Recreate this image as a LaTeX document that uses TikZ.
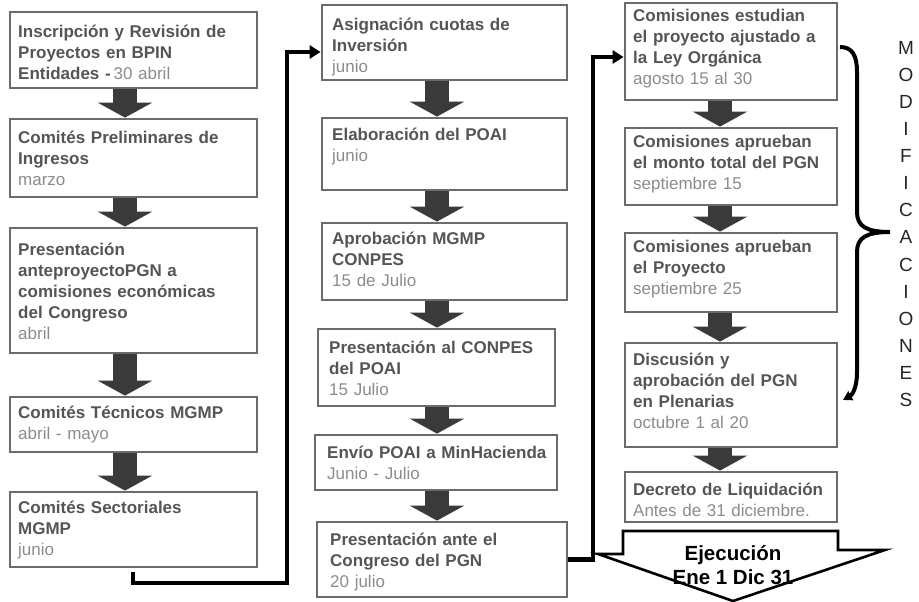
\documentclass[tikz,border=0pt]{standalone}
\usepackage{fontspec}
\setmainfont{Liberation Sans}
\usetikzlibrary{arrows.meta,fit,calc}
\definecolor{boxline}{HTML}{6B6B6B}
\definecolor{ttlc}{HTML}{555555}
\definecolor{dtec}{HTML}{8C8C8C}
\definecolor{fatc}{HTML}{3A3A3A}
\newcommand{\dt}[1]{{\mdseries\color{dtec}#1}}
\begin{document}
\begin{tikzpicture}[x=1pt,y=-1pt,
  box/.style={draw=boxline,line width=2.8pt,inner sep=0pt},
  txt/.style={anchor=base west,inner sep=0pt,text width=250pt,align=left,
    font=\fontsize{17}{21}\selectfont\bfseries,text=ttlc},
  fatarr/.style={line width=24pt,draw=fatc,-{Triangle[length=15pt,width=54pt]}},
  conn/.style={line width=4.5pt,draw=black,-{Triangle[length=11pt,width=13pt]}},
  bracel/.style={line width=4pt,draw=black,-{Triangle[length=9pt,width=10pt]}}]
\useasboundingbox (0,0) rectangle (919,602);
\fill[white] (0,0) rectangle (919,602);
% column 1
\node[box,fit={(10,12) (257,88)}] (b11) {};
\node[box,fit={(10,119) (257,197)}] (b12) {};
\node[box,fit={(10,228) (257,353)}] (b13) {};
\node[box,fit={(10,397) (257,452)}] (b14) {};
\node[box,fit={(10,492) (257,567)}] (b15) {};
\node[txt] (t11) at (18,37.5) {Inscripción y Revisión de\\Proyectos en BPIN\\Entidades -\,\dt{30 abril}};
\node[txt] (t12) at (18,143.5) {Comités Preliminares de\\Ingresos\\\dt{marzo}};
\node[txt] (t13) at (18,255.5) {Presentación\\anteproyectoPGN a\\comisiones económicas\\del Congreso\\\dt{abril}};
\node[txt] (t14) at (18,418.5) {Comités Técnicos MGMP\\\dt{abril - mayo}};
\node[txt] (t15) at (18,513.5) {Comités Sectoriales\\MGMP\\\dt{junio}};
% column 2
\node[box,fit={(322,5) (567,80)}] (b21) {};
\node[box,fit={(322,118) (567,190)}] (b22) {};
\node[box,fit={(322,223) (567,300)}] (b23) {};
\node[box,fit={(318,329) (555,406)}] (b24) {};
\node[box,fit={(315,435) (557,490)}] (b25) {};
\node[box,fit={(317,522) (567,597)}] (b26) {};
\node[txt] (t21) at (332,30.5) {Asignación cuotas de\\Inversión\\\dt{junio}};
\node[txt] (t22) at (332,140.5) {Elaboración del POAI\\\dt{junio}};
\node[txt] (t23) at (332,244.5) {Aprobación MGMP\\CONPES\\\dt{15 de Julio}};
\node[txt] (t24) at (329,353.5) {Presentación al CONPES\\del POAI\\\dt{15 Julio}};
\node[txt] (t25) at (327,458.5) {Envío POAI a MinHacienda\\\dt{Junio - Julio}};
\node[txt] (t26) at (330,545.5) {Presentación ante el\\Congreso del PGN\\\dt{20 julio}};
% column 3
\node[box,fit={(625,3) (837,100)}] (b31) {};
\node[box,fit={(625,128) (837,205)}] (b32) {};
\node[box,fit={(625,233) (837,312)}] (b33) {};
\node[box,fit={(625,343) (837,447)}] (b34) {};
\node[box,fit={(625,472) (837,522)}] (b35) {};
\node[txt] (t31) at (633,22) {Comisiones estudian\\el proyecto ajustado a\\la Ley Orgánica\\\dt{agosto 15 al 30}};
\node[txt] (t32) at (633,147.5) {Comisiones aprueban\\el monto total del PGN\\\dt{septiembre 15}};
\node[txt] (t33) at (633,252.5) {Comisiones aprueban\\el Proyecto\\\dt{septiembre 25}};
\node[txt] (t34) at (633,365.5) {Discusión y\\aprobación del PGN\\en Plenarias\\\dt{octubre 1 al 20}};
\node[txt] (t35) at (633,495.5) {Decreto de Liquidación\\\dt{Antes de 31 diciembre.}};
% fat arrows
\coordinate (ax1) at (125,0);
\coordinate (ax2) at (437,0);
\coordinate (ax3) at (720,0);
\draw[fatarr] (b11.south -| ax1) -- (b12.north -| ax1);
\draw[fatarr] (b12.south -| ax1) -- (b13.north -| ax1);
\draw[fatarr] (b13.south -| ax1) -- (b14.north -| ax1);
\draw[fatarr] (b14.south -| ax1) -- (b15.north -| ax1);
\draw[fatarr] (b21.south -| ax2) -- (b22.north -| ax2);
\draw[fatarr] (b22.south -| ax2) -- (b23.north -| ax2);
\draw[fatarr] (b23.south -| ax2) -- (b24.north -| ax2);
\draw[fatarr] (b24.south -| ax2) -- (b25.north -| ax2);
\draw[fatarr] (b25.south -| ax2) -- (b26.north -| ax2);
\draw[fatarr] (b31.south -| ax3) -- (b32.north -| ax3);
\draw[fatarr] (b32.south -| ax3) -- (b33.north -| ax3);
\draw[fatarr] (b33.south -| ax3) -- (b34.north -| ax3);
\draw[fatarr] (b34.south -| ax3) -- (b35.north -| ax3);
% connectors between columns
\coordinate (c1a) at (133,572);
\coordinate (c1b) at (287,583);
\coordinate (c1c) at (287,52);
\draw[conn] (c1a) |- (c1b) -- (c1c) -- (c1c -| b21.west);
\coordinate (c2b) at (593,57);
\draw[conn] (b26.east) -| (c2b) -- (c2b -| b31.west);
% big execution arrow
\draw[line width=2.6pt,fill=white,line join=miter] (623,531) -- (838,531) -- (838,550) -- (885,550) -- (733,601) -- (598,554) -- (623,554) -- cycle;
\node[font=\fontsize{20.5}{24}\selectfont\bfseries,align=center,inner sep=0pt] (ejec) at (733,565) {Ejecución\\Ene 1 Dic 31};
% brace
\coordinate (br1) at (840,47);
\coordinate (br2) at (843,400);
\draw[bracel] (br1) .. controls (852,47) and (857,55) .. (857,72) -- (857,212)
  .. controls (857,226) and (866,232) .. (890,232)
  .. controls (866,232) and (857,238) .. (857,252) -- (857,372)
  .. controls (857,388) and (852,395) .. (br2);
\node[font=\fontsize{19}{27.1}\selectfont,align=center,inner sep=0pt,text=black!85] (mod) at (906,224) {M\\O\\D\\I\\F\\I\\C\\A\\C\\I\\O\\N\\E\\S};
\end{tikzpicture}
\end{document}
